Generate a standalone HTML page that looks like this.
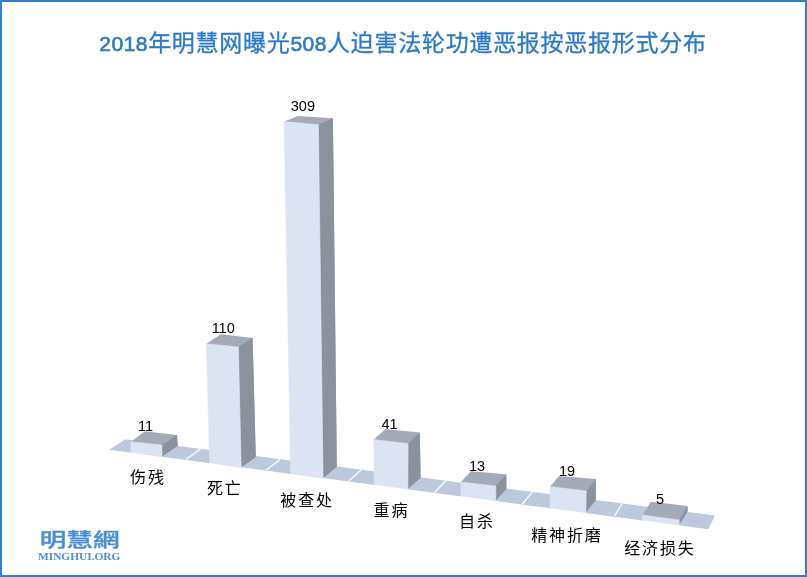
<!DOCTYPE html>
<html lang="zh-CN"><head><meta charset="utf-8"><title>2018年明慧网曝光508人迫害法轮功遭恶报按恶报形式分布</title>
<style>
html,body{margin:0;padding:0;background:#fff;}
body{width:807px;height:577px;overflow:hidden;position:relative;}
svg{position:absolute;left:0;top:0;display:block;}
.ttl{font-family:"Liberation Sans","Noto Sans CJK SC",sans-serif;font-weight:400;font-size:23px;fill:#2b7ac9;stroke:#2b7ac9;stroke-width:0.3px;}
.dg{font-family:"Liberation Sans",sans-serif;font-weight:400;font-size:21px;stroke-width:0.6px;}
.num{font-family:"Liberation Sans",sans-serif;font-size:14.5px;fill:#000;text-anchor:middle;}
.cat{font-family:"Liberation Sans","Noto Sans CJK SC",sans-serif;font-size:16px;fill:#000;text-anchor:middle;letter-spacing:1.9px;}
.lg1{font-family:"Liberation Sans","Noto Sans CJK TC","Noto Sans CJK SC",sans-serif;font-weight:500;font-size:19px;fill:#4a8fd8;stroke:#4a8fd8;stroke-width:0.35px;}
.lg2{font-family:"Liberation Serif",serif;font-weight:700;font-size:10.8px;fill:#4a8fd8;}
</style></head><body>
<svg width="807" height="577" viewBox="0 0 807 577">
<rect x="0" y="0" width="807" height="577" fill="#ffffff"/>
<rect x="1" y="1" width="805" height="575" fill="none" stroke="#3180cb" stroke-width="2"/>

<g class="ttl">
<text class="dg" x="105.18 117.35 129.53 141.69" y="50.8" text-anchor="middle">2018</text>
<text x="148.13 171.86 195.59 219.32 243.05 266.78" y="50.7">年明慧网曝光</text>
<text class="dg" x="296.24 308.41 320.58" y="50.8" text-anchor="middle">508</text>
<text x="327.02 350.75 374.48 398.21 421.94 445.67 469.40 493.13 516.86 540.59 564.32 588.05 611.78 635.51 659.24 682.97" y="50.7">人迫害法轮功遭恶报按恶报形式分布</text>
</g>
<polygon points="109.05,449.85 125.60,439.20 714.90,515.40 708.30,529.20 678.60,525.27 678.60,524.27 643.00,519.55 643.00,520.55 585.30,512.91 585.30,511.91 550.70,507.33 550.70,508.33 495.20,500.98 495.20,499.98 461.50,495.52 461.50,496.52 407.30,489.34 407.30,488.34 374.70,484.03 374.70,485.03 322.50,478.11 322.50,477.11 291.30,472.98 291.30,473.98 240.60,467.27 240.60,466.27 210.30,462.26 210.30,463.26 161.50,456.80 161.50,455.80 131.50,451.82 131.50,452.82" fill="#bcc8dc"/>
<line x1="186" y1="459.6" x2="200.5" y2="449" stroke="#fff" stroke-width="1.25"/>
<line x1="266.1" y1="470.1" x2="280.0" y2="459.4" stroke="#fff" stroke-width="1.25"/>
<line x1="348.2" y1="481.6" x2="361.2" y2="469.7" stroke="#fff" stroke-width="1.25"/>
<line x1="434.3" y1="492.8" x2="445.5" y2="481" stroke="#fff" stroke-width="1.25"/>
<line x1="522.4" y1="504" x2="532.3" y2="492.2" stroke="#fff" stroke-width="1.25"/>
<line x1="614.6" y1="515.8" x2="622.4" y2="503.5" stroke="#fff" stroke-width="1.25"/>
<polygon points="130.90,441.70 145.00,431.30 177.00,434.90 177.70,445.70 162.10,455.50 131.70,451.40 131.70,442.70" fill="#a5aab7"/>
<polygon points="161.90,445.10 177.00,434.90 177.70,445.70 162.10,456.70" fill="#8b919d"/>
<polygon points="130.90,441.70 161.90,445.10 162.10,456.70 130.90,452.60" fill="#dce3f3" stroke="#dce3f3" stroke-width="0.6" stroke-linejoin="round"/>
<polygon points="206.40,343.70 220.90,334.20 252.60,338.00 255.80,457.00 241.20,466.30 210.50,461.50 207.20,344.70" fill="#a5aab7"/>
<polygon points="238.40,347.10 252.60,338.00 255.80,457.00 241.20,467.50" fill="#8b919d"/>
<polygon points="206.40,343.70 238.40,347.10 241.20,467.50 209.70,462.70" fill="#dce3f3" stroke="#dce3f3" stroke-width="0.6" stroke-linejoin="round"/>
<polygon points="284.20,121.60 298.00,116.00 332.90,118.20 336.80,466.80 323.10,477.00 291.50,472.50 285.00,122.60" fill="#a5aab7"/>
<polygon points="318.40,124.70 332.90,118.20 336.80,466.80 323.10,478.20" fill="#8b919d"/>
<polygon points="284.20,121.60 318.40,124.70 323.10,478.20 290.70,473.70" fill="#dce3f3" stroke="#dce3f3" stroke-width="0.6" stroke-linejoin="round"/>
<polygon points="373.90,439.40 385.50,429.10 419.80,432.50 420.60,477.70 407.90,487.90 374.90,483.20 374.70,440.40" fill="#a5aab7"/>
<polygon points="408.10,443.70 419.80,432.50 420.60,477.70 407.90,489.10" fill="#8b919d"/>
<polygon points="373.90,439.40 408.10,443.70 407.90,489.10 374.10,484.40" fill="#dce3f3" stroke="#dce3f3" stroke-width="0.6" stroke-linejoin="round"/>
<polygon points="460.90,481.90 471.00,471.20 506.30,474.20 506.30,488.90 495.80,499.50 461.70,494.60 461.70,482.90" fill="#a5aab7"/>
<polygon points="495.80,486.10 506.30,474.20 506.30,488.90 495.80,500.70" fill="#8b919d"/>
<polygon points="460.90,481.90 495.80,486.10 495.80,500.70 460.90,495.80" fill="#dce3f3" stroke="#dce3f3" stroke-width="0.6" stroke-linejoin="round"/>
<polygon points="550.20,486.60 559.10,476.00 595.90,479.00 595.80,500.20 585.90,511.40 550.90,506.80 551.00,487.60" fill="#a5aab7"/>
<polygon points="586.20,490.90 595.90,479.00 595.80,500.20 585.90,512.60" fill="#8b919d"/>
<polygon points="550.20,486.60 586.20,490.90 585.90,512.60 550.10,508.00" fill="#dce3f3" stroke="#dce3f3" stroke-width="0.6" stroke-linejoin="round"/>
<polygon points="642.40,515.00 650.90,501.70 687.60,506.00 687.50,511.70 679.20,523.70 643.20,518.90 643.20,516.00" fill="#a5aab7"/>
<polygon points="679.20,519.90 687.60,506.00 687.50,511.70 679.20,524.90" fill="#8b919d"/>
<polygon points="642.40,515.00 679.20,519.90 679.20,524.90 642.40,520.10" fill="#dce3f3" stroke="#dce3f3" stroke-width="0.6" stroke-linejoin="round"/>
<text class="num" x="145.5" y="430.7">11</text>
<text class="num" x="223.2" y="333">110</text>
<text class="num" x="302.9" y="111">309</text>
<text class="num" x="389.6" y="428.5">41</text>
<text class="num" x="477" y="470.8">13</text>
<text class="num" x="567" y="475.8">19</text>
<text class="num" x="660" y="503.5">5</text>
<text class="cat" x="147.95" y="483.1">伤残</text>
<text class="cat" x="224.85" y="494.4">死亡</text>
<text class="cat" x="307.15" y="506.0">被查处</text>
<text class="cat" x="391.45" y="515.9">重病</text>
<text class="cat" x="476.95" y="526.9">自杀</text>
<text class="cat" x="566.95" y="541.0">精神折磨</text>
<text class="cat" x="659.95" y="554.1">经济损失</text>
<text class="lg1" transform="translate(39.7,547.2) scale(1.40,1)" x="0" y="0">明慧網</text>
<text class="lg2" x="38" y="560.3" textLength="82.4" lengthAdjust="spacingAndGlyphs">MINGHUI.ORG</text>
</svg></body></html>
